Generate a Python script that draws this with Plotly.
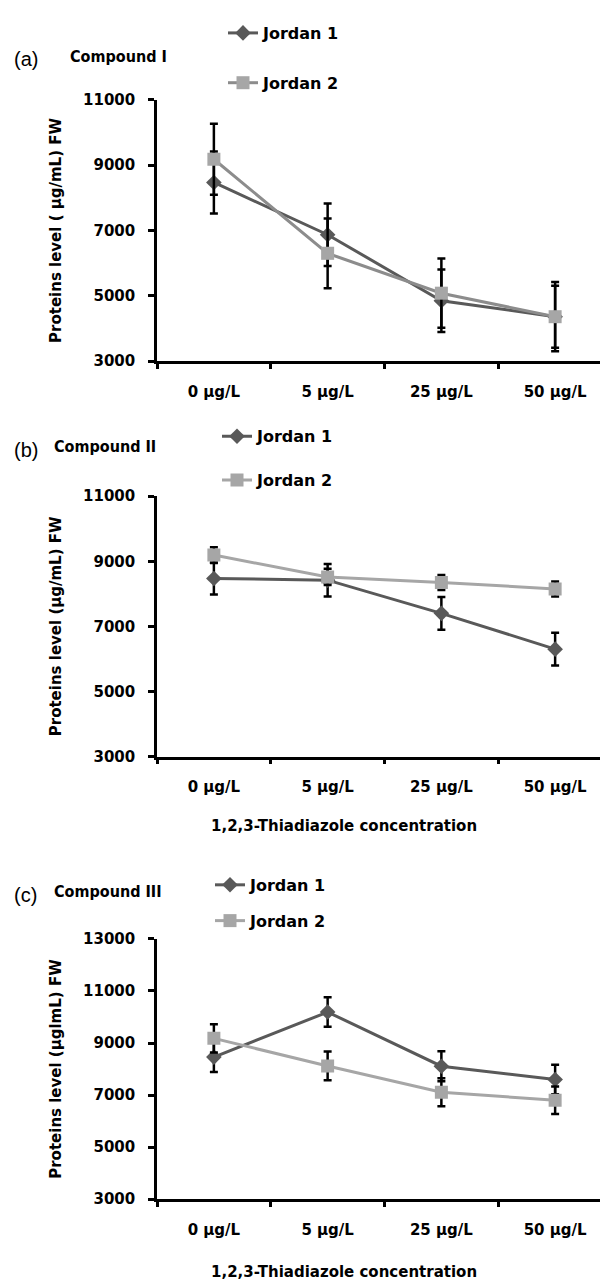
import plotly.graph_objects as go

W, H = 608, 1286

categories = ["0 µg/L", "5 µg/L", "25 µg/L", "50 µg/L"]
series_names = ["Jordan 1", "Jordan 2"]

# Panel (a) Compound I
a_j1 = [8470, 6870, 4850, 4360]
a_j1_err = [950, 955, 955, 950]
a_j2 = [9180, 6300, 5080, 4360]
a_j2_err = [1090, 1070, 1060, 1060]

# Panel (b) Compound II
b_j1 = [8470, 8420, 7400, 6300]
b_j1_err = [490, 500, 505, 505]
b_j2 = [9190, 8520, 8350, 8150]
b_j2_err = [240, 250, 230, 230]

# Panel (c) Compound III
c_j1 = [8460, 10190, 8110, 7600]
c_j1_err = [570, 565, 575, 570]
c_j2 = [9180, 8120, 7110, 6800]
c_j2_err = [540, 550, 540, 530]

y_titles = ["Proteins level ( µg/mL) FW", "Proteins level (µg/mL) FW", "Proteins level (µglmL) FW"]
panel_tags = ["(a)", "(b)", "(c)"]
panel_names = ["Compound I", "Compound II", "Compound III"]
x_title = "1,2,3-Thiadiazole concentration"

FONT = "DejaVu Sans"
NARROW = "Liberation Sans Narrow, DejaVu Sans Condensed, DejaVu Sans"
DARK = "#595959"


def py(px):
    return 1 - px / H


def pxx(px):
    return px / W


panels = [
    dict(j1=a_j1, j1e=a_j1_err, j2=a_j2, j2e=a_j2_err, top=84, bot=349,
         yr=[3000, 11000], dt=2000, j2line="#8c8c8c", j2mark="#a6a6a6",
         leg_x=215, leg_y=-1, gap=26),
    dict(j1=b_j1, j1e=b_j1_err, j2=b_j2, j2e=b_j2_err, top=486, bot=750,
         yr=[3000, 11000], dt=2000, j2line="#a6a6a6", j2mark="#a6a6a6",
         leg_x=209, leg_y=408, gap=20),
    dict(j1=c_j1, j1e=c_j1_err, j2=c_j2, j2e=c_j2_err, top=935, bot=1199,
         yr=[3000, 13000], dt=2000, j2line="#a6a6a6", j2mark="#a6a6a6",
         leg_x=202, leg_y=863, gap=12),
]

fig = go.Figure()
layout = dict(
    width=W, height=H, margin=dict(l=0, r=0, t=0, b=0),
    paper_bgcolor="white", plot_bgcolor="white",
    font=dict(family=FONT, color="black"),
    showlegend=True,
)
annotations = []

for i, p in enumerate(panels):
    sfx = "" if i == 0 else str(i + 1)
    xa, ya = "x" + sfx, "y" + sfx
    leg = "legend" + sfx
    fig.add_trace(go.Scatter(
        x=categories, y=p["j1"], name=series_names[0], xaxis=xa, yaxis=ya,
        mode="lines+markers", legend=leg, legendgroup=f"p{i}j1",
        line=dict(color=DARK, width=3),
        marker=dict(symbol="diamond", size=12, color=DARK),
        error_y=dict(type="data", array=p["j1e"], color="black", thickness=2.5, width=4),
    ))
    fig.add_trace(go.Scatter(
        x=categories, y=p["j2"], name=series_names[1], xaxis=xa, yaxis=ya,
        mode="lines+markers", legend=leg, legendgroup=f"p{i}j2",
        line=dict(color=p["j2line"], width=3),
        marker=dict(symbol="square", size=13, color=p["j2mark"]),
        error_y=dict(type="data", array=p["j2e"], color="black", thickness=2.5, width=4),
    ))
    layout["xaxis" + sfx] = dict(
        domain=[pxx(149), pxx(604)], anchor=ya, type="category", range=[-0.5, 3.5],
        showline=True, linecolor="black", linewidth=2.5, mirror=False,
        ticks="outside", tickson="boundaries", ticklen=5, tickwidth=2.5, tickcolor="black",
        showgrid=False, zeroline=False, ticklabelstandoff=15,
        tickfont=dict(family=FONT, size=15, color="black", weight="bold"),
    )
    layout["yaxis" + sfx] = dict(
        domain=[py(p["bot"]), py(p["top"])], anchor=xa, range=p["yr"], dtick=p["dt"],
        tick0=3000, tickformat="d", showline=True, linecolor="black", linewidth=2.5,
        ticks="outside", ticklen=6, tickwidth=2.5, tickcolor="black",
        showgrid=False, zeroline=False, ticklabelstandoff=10,
        tickfont=dict(family=FONT, size=15, color="black", weight="bold"),
        title=dict(text=y_titles[i], standoff=18,
                   font=dict(family=FONT, size=15, color="black", weight="bold")),
    )
    layout[leg] = dict(
        x=pxx(p["leg_x"]), y=py(p["leg_y"]), xanchor="left", yanchor="top",
        bgcolor="rgba(0,0,0,0)", tracegroupgap=p["gap"],
        font=dict(family=FONT, size=16, color="black", weight="bold"),
        itemclick=False, itemdoubleclick=False,
    )

tag_y = [43, 439, 890]
name_x = [60, 44, 44]
for i in range(3):
    annotations.append(dict(
        text=panel_tags[i], x=pxx(4), y=py(tag_y[i]), xref="paper", yref="paper",
        xanchor="left", yanchor="middle", showarrow=False,
        font=dict(family="Liberation Sans", size=20, color="black"),
    ))
    annotations.append(dict(
        text=panel_names[i], x=pxx(name_x[i]), y=py(tag_y[i] - 3), xref="paper", yref="paper",
        xanchor="left", yanchor="middle", showarrow=False,
        font=dict(family=NARROW, size=16, color="black", weight="bold"),
    ))

for yc in [820, 1273]:
    annotations.append(dict(
        text=x_title, x=pxx(336), y=py(yc), xref="paper", yref="paper",
        xanchor="center", yanchor="middle", showarrow=False,
        font=dict(family=FONT, size=15, color="black", weight="bold"),
    ))

layout["annotations"] = annotations
fig.update_layout(**layout)
fig.write_html("out.html")
